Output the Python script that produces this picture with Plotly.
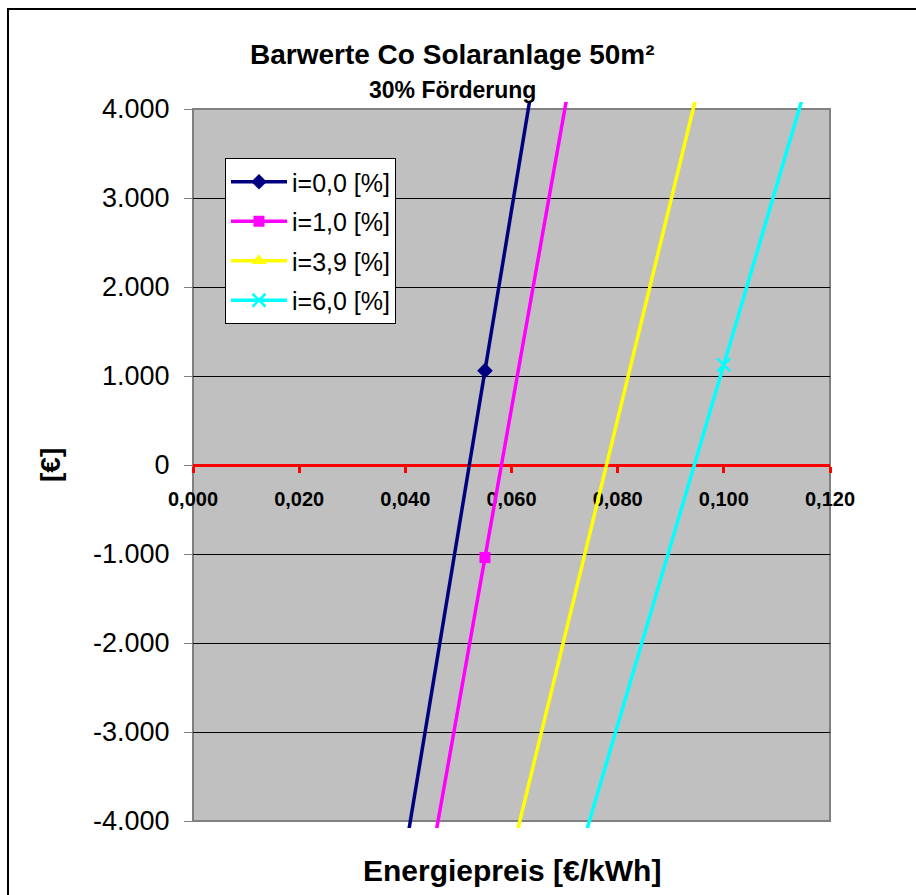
import plotly.graph_objects as go

# Energy price sample points [€/kWh]
PRICES = [0.010, 0.055, 0.100, 0.145]

# Net present values [€] per interest rate
NPV_I00 = [-15140, 1060, 17260, 33460]
NPV_I10 = [-16115, -1040, 14035, 29110]
NPV_I39 = [-16635, -5610, 5415, 16440]
NPV_I60 = [-17090, -7985, 1125, 10235]

SERIES_NAMES = ["i=0,0 [%]", "i=1,0 [%]", "i=3,9 [%]", "i=6,0 [%]"]

X_TICKS = [0.00, 0.02, 0.04, 0.06, 0.08, 0.10, 0.12]
X_TICK_LABELS = ["0,000", "0,020", "0,040", "0,060", "0,080", "0,100", "0,120"]
Y_TICKS = [-4000, -3000, -2000, -1000, 0, 1000, 2000, 3000, 4000]
Y_TICK_LABELS = ["-4.000", "-3.000", "-2.000", "-1.000", "0",
                 "1.000", "2.000", "3.000", "4.000"]

TITLE = "Barwerte Co Solaranlage 50m²"
SUBTITLE = "30% Förderung"
X_TITLE = "Energiepreis [€/kWh]"
Y_TITLE = "[€]"

# ---- layout geometry (pixels) ----
W, H = 916, 895
L, R, T, B = 193, 830, 109, 821      # grey plot area
PAD = 7                              # lines may run a little past the plot area
Y_MIN, Y_MAX = -4000, 4000
X_MIN, X_MAX = 0.0, 0.12

paper_h = (B - T) + 2 * PAD


def px(x):
    return (x - L) / (R - L)


def py(y):
    return (B + PAD - y) / paper_h


ext = (Y_MAX - Y_MIN) / (B - T) * PAD

FONT = "Arial, Liberation Sans, sans-serif"

styles = [
    dict(color="#000080", symbol="diamond", size=12),
    dict(color="#FF00FF", symbol="square", size=11),
    dict(color="#FFFF00", symbol="triangle-up", size=13),
    dict(color="#00FFFF", symbol="x-thin", size=13),
]

fig = go.Figure()

# empty trace that carries the main axes (grid, ticks, red zero axis)
fig.add_trace(go.Scatter(x=[], y=[], xaxis="x", yaxis="y", showlegend=False,
                         hoverinfo="skip"))

for name, vals, st in zip(SERIES_NAMES, [NPV_I00, NPV_I10, NPV_I39, NPV_I60], styles):
    marker = dict(symbol=st["symbol"], size=st["size"], color=st["color"])
    if st["symbol"] == "x-thin":
        marker["line"] = dict(color=st["color"], width=2.5)
    fig.add_trace(go.Scatter(
        x=PRICES, y=vals, name=name, legendgroup=name,
        mode="lines+markers", xaxis="x2", yaxis="y2",
        line=dict(color=st["color"], width=3.5),
        marker=marker,
    ))

fig.update_layout(
    width=W, height=H,
    margin=dict(l=L, r=W - R, t=T - PAD, b=H - B - PAD, pad=0),
    paper_bgcolor="white",
    plot_bgcolor="rgba(0,0,0,0)",
    font=dict(family=FONT, color="black"),
    showlegend=True,
    legend=dict(
        x=px(225), y=py(158), xanchor="left", yanchor="top",
        bgcolor="white", bordercolor="black", borderwidth=1,
        font=dict(family=FONT, size=25, color="black"),
        tracegroupgap=4, itemwidth=56,
    ),
    xaxis=dict(
        domain=[0, 1], range=[X_MIN, X_MAX],
        anchor="free", position=0.5,
        tickmode="array", tickvals=X_TICKS, ticktext=X_TICK_LABELS,
        showline=True, linecolor="#FF0000", linewidth=3,
        ticks="outside", ticklen=6, tickwidth=3, tickcolor="#FF0000",
        showgrid=False, zeroline=False,
        tickfont=dict(family=FONT, size=20, color="black", weight="bold"),
        ticklabelstandoff=9,
    ),
    yaxis=dict(
        domain=[py(B), py(T)], range=[Y_MIN, Y_MAX],
        tickmode="array", tickvals=Y_TICKS, ticktext=Y_TICK_LABELS,
        showgrid=True, gridcolor="black", gridwidth=1,
        ticks="outside", ticklen=8, tickwidth=1, tickcolor="#808080",
        showline=False, zeroline=False,
        tickfont=dict(family=FONT, size=27, color="black"),
        ticklabelstandoff=9,
    ),
    xaxis2=dict(domain=[0, 1], range=[X_MIN, X_MAX], anchor="y2", visible=False),
    yaxis2=dict(domain=[0, 1], range=[Y_MIN - ext, Y_MAX + ext], anchor="x2",
                visible=False),
    shapes=[
        # grey plot area with its border
        dict(type="rect", xref="paper", yref="paper",
             x0=0, x1=1, y0=py(B), y1=py(T),
             fillcolor="#C0C0C0", line=dict(color="#808080", width=2),
             layer="below"),
        # chart frame
        dict(type="rect", xref="paper", yref="paper",
             x0=px(8), x1=px(8) + 3, y0=-3, y1=py(9),
             line=dict(color="black", width=2), layer="below"),
    ],
    annotations=[
        dict(text=TITLE, x=px(452), y=py(55), xref="paper", yref="paper",
             xanchor="center", yanchor="middle", showarrow=False,
             font=dict(family=FONT, size=28, color="black", weight="bold")),
        dict(text=SUBTITLE, x=px(452), y=py(90), xref="paper", yref="paper",
             xanchor="center", yanchor="middle", showarrow=False,
             font=dict(family=FONT, size=23, color="black", weight="bold")),
        dict(text=X_TITLE, x=px(512), y=py(870), xref="paper", yref="paper",
             xanchor="center", yanchor="middle", showarrow=False,
             font=dict(family=FONT, size=30, color="black", weight="bold")),
        dict(text=Y_TITLE, x=px(50), y=py(465), xref="paper", yref="paper",
             xanchor="center", yanchor="middle", showarrow=False, textangle=-90,
             font=dict(family=FONT, size=28, color="black", weight="bold")),
    ],
)

fig.write_html("out.html")
